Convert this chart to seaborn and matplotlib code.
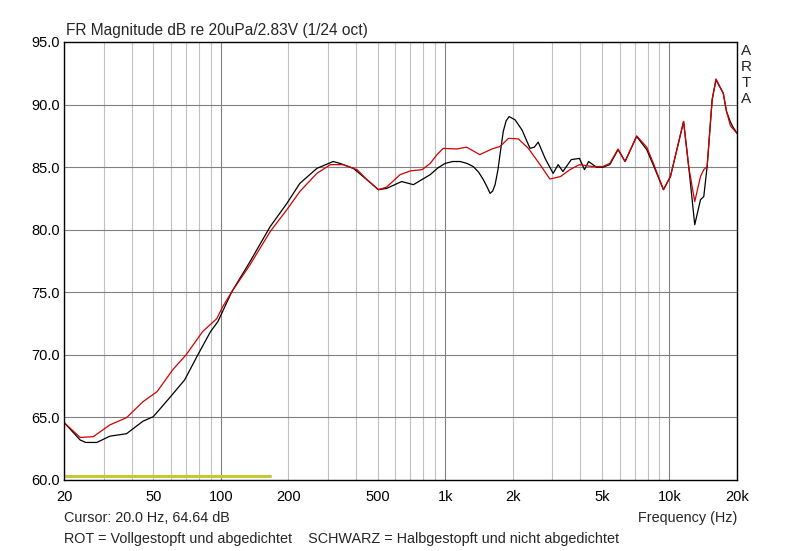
import numpy as np
import pandas as pd
import seaborn as sns
import matplotlib.pyplot as plt
from matplotlib.ticker import FixedLocator, NullFormatter

# black curve: half stuffed, not sealed
black_freq = [20, 23.6, 25, 28, 32, 38, 45, 50, 59, 69, 79, 90, 97, 112, 135, 166, 197, 225,
              268, 317, 340, 390, 448, 504, 548, 640, 722, 858, 930, 1000, 1080, 1166, 1250,
              1334, 1410, 1480, 1540, 1586, 1630, 1670, 1720, 1756, 1816, 1870, 1928, 2050,
              2200, 2390, 2500, 2600, 2790, 3030, 3190, 3350, 3650, 3970, 4180, 4360, 4720,
              5050, 5420, 5900, 6340, 7140, 7920, 8640, 9400, 10100, 11560, 12180, 12960,
              13750, 14220, 14720, 15500, 16120, 17370, 17960, 18700, 19200, 20000]
black_db = [64.6, 63.2, 63.0, 63.0, 63.5, 63.7, 64.7, 65.06, 66.55, 68.0, 70.0, 71.86, 72.65,
            75.05, 77.45, 80.25, 82.1, 83.7, 84.9, 85.45, 85.3, 84.9, 84.0, 83.2, 83.3, 83.85,
            83.6, 84.4, 84.95, 85.3, 85.45, 85.45, 85.3, 85.05, 84.6, 84.0, 83.4, 82.9, 83.1,
            83.6, 84.8, 86.0, 87.85, 88.7, 89.04, 88.78, 87.98, 86.5, 86.6, 87.0, 85.7, 84.5,
            85.2, 84.65, 85.6, 85.7, 84.8, 85.45, 85.0, 85.0, 85.2, 86.4, 85.45, 87.45, 86.4,
            84.8, 83.2, 84.25, 88.65, 85.05, 80.4, 82.4, 82.65, 85.05, 90.4, 91.97, 90.9,
            89.45, 88.6, 88.2, 87.7]

# red curve: fully stuffed and sealed
red_freq = [20, 23.6, 27, 32, 38, 45, 52, 61, 70, 83, 96, 102, 112, 135, 166, 197, 225, 268,
            308, 350, 405, 448, 504, 548, 630, 700, 790, 858, 920, 980, 1126, 1246, 1426, 1615,
            1756, 1916, 2120, 2350, 2650, 2930, 3270, 3600, 3970, 4520, 5050, 5420, 5900,
            6340, 7140, 7920, 8480, 9400, 10100, 11560, 12180, 12960, 13750, 14220, 14720,
            15500, 16120, 17370, 17960, 18700, 20000]
red_db = [64.6, 63.4, 63.46, 64.4, 64.98, 66.26, 67.06, 68.8, 70.0, 71.86, 72.9, 73.85, 75.05,
          77.2, 79.85, 81.6, 83.05, 84.5, 85.2, 85.2, 84.8, 84.0, 83.2, 83.4, 84.4, 84.7, 84.8,
          85.3, 86.0, 86.5, 86.45, 86.6, 86.0, 86.45, 86.65, 87.3, 87.26, 86.5, 85.2, 84.05,
          84.25, 84.8, 85.2, 85.05, 85.05, 85.3, 86.45, 85.45, 87.5, 86.6, 85.3, 83.2, 84.25,
          88.65, 85.05, 82.25, 84.25, 84.8, 85.05, 90.4, 92.05, 90.9, 89.45, 88.3, 87.7]

# yellow range marker
marker_freq = [20, 166]
marker_db = [60.35, 60.35]

x_ticks = [20, 50, 100, 200, 500, 1000, 2000, 5000, 10000, 20000]
x_labels = ["20", "50", "100", "200", "500", "1k", "2k", "5k", "10k", "20k"]
y_ticks = [60, 65, 70, 75, 80, 85, 90, 95]

sns.set_style("white")
plt.rcParams['font.family'] = ['Liberation Sans', 'DejaVu Sans']

fig = plt.figure(figsize=(8, 5.51), dpi=100)
ax = fig.add_axes([64 / 800, 1 - 480 / 551, 673 / 800, 438 / 551])

# grid
minor = [m * 10 ** e for e in range(1, 5) for m in range(2, 10) if 20 <= m * 10 ** e <= 20000]
for f in minor:
    if f not in (100, 1000, 10000):
        ax.axvline(f, color="#c0c0c0", lw=0.8, zorder=0)
for f in (100, 1000, 10000):
    ax.axvline(f, color="#808080", lw=0.8, zorder=0)
for y in y_ticks[1:-1]:
    ax.axhline(y, color="#808080", lw=0.8, zorder=0)

sns.lineplot(x=marker_freq, y=marker_db, ax=ax, color="#c8c832", lw=2.2)
black_df = pd.DataFrame({"f": black_freq, "db": black_db})
red_df = pd.DataFrame({"f": red_freq, "db": red_db})
sns.lineplot(data=black_df, x="f", y="db", ax=ax, color="black", lw=0.9, sort=False)
sns.lineplot(data=red_df, x="f", y="db", ax=ax, color="#d00000", lw=0.9, sort=False)

ax.set_xscale("log")
ax.set_xlim(20, 20000)
ax.set_ylim(60, 95)
ax.xaxis.set_major_locator(FixedLocator(x_ticks))
ax.xaxis.set_minor_formatter(NullFormatter())
ax.xaxis.set_minor_locator(FixedLocator([]))
ax.set_xticklabels(x_labels)
ax.set_yticks(y_ticks)
ax.set_yticklabels([f"{v:.1f}" for v in y_ticks])
ax.tick_params(axis="both", length=0, labelsize=10.5, colors="black")
ax.tick_params(axis="x", pad=7)
ax.tick_params(axis="y", pad=3)
ax.set_xlabel("")
ax.set_ylabel("")
for s in ax.spines.values():
    s.set_visible(True)
    s.set_color("black")
    s.set_linewidth(1.0)

fig.text(66 / 800, 1 - 30 / 551, "FR Magnitude dB re 20uPa/2.83V (1/24 oct)",
         fontsize=11.2, va="center", ha="left")
for i, ch in enumerate("ARTA"):
    fig.text(746 / 800, 1 - (51 + i * 16) / 551, ch, fontsize=11, va="center", ha="center")
fig.text(64 / 800, 1 - 518 / 551, "Cursor: 20.0 Hz, 64.64 dB", fontsize=10.4, va="center")
fig.text(737 / 800, 1 - 518 / 551, "Frequency (Hz)", fontsize=10.4, va="center", ha="right")
fig.text(64 / 800, 1 - 539 / 551,
         "ROT = Vollgestopft und abgedichtet    SCHWARZ = Halbgestopft und nicht abgedichtet",
         fontsize=10.4, va="center")

fig.savefig("out.png", dpi=100, facecolor="white")
